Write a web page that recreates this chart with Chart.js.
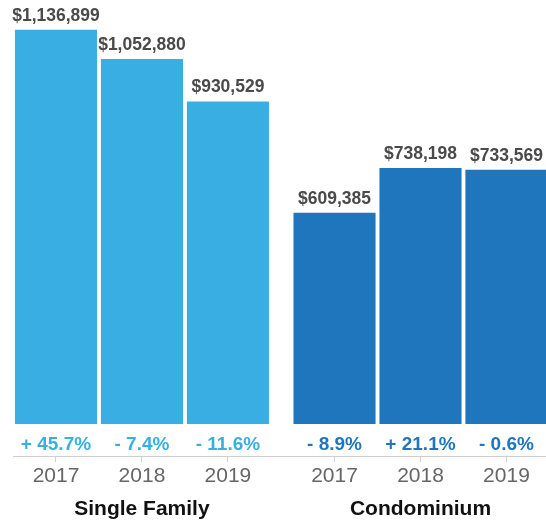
<!DOCTYPE html>
<html>
<head>
<meta charset="utf-8">
<script src="https://cdn.jsdelivr.net/npm/chart.js@4"></script>
<style>
  body { margin: 0; background: #fff; }
  #wrap { width: 546px; height: 522px; }
</style>
</head>
<body>
<div id="wrap"><canvas id="grafico"></canvas></div>
<script>
// Datos
const grupos = ["Single Family", "Condominium"];
const anios = ["2017", "2018", "2019"];
const singleFamily = [1136899, 1052880, 930529];
const condominium = [609385, 738198, 733569];
const cambioSingle = [45.7, -7.4, -11.6];
const cambioCondo = [-8.9, 21.1, -0.6];

const colores = ["#38AEE3", "#1F76BD"];
const separacion = 0.24; // hueco extra entre grupos

// posición en el eje x (linear) de cada barra
const posX = (g, i) => g * (anios.length + separacion) + i;
const centrosGrupo = grupos.map((_, g) => posX(g, (anios.length - 1) / 2));
const ticksAnios = [];
grupos.forEach((_, g) => anios.forEach((a, i) => ticksAnios.push({ value: posX(g, i), label: a })));

const valores = [singleFamily, condominium];
const cambios = [cambioSingle, cambioCondo];

const fmtDolar = v => "$" + v.toLocaleString("en-US");
const fmtCambio = v => (v >= 0 ? "+ " : "- ") + Math.abs(v).toFixed(1) + "%";

const etiquetas = {
  id: "etiquetas",
  afterDatasetsDraw(chart) {
    const { ctx, chartArea } = chart;
    ctx.save();
    ctx.textAlign = "center";
    ctx.textBaseline = "alphabetic";
    chart.data.datasets.forEach((ds, d) => {
      chart.getDatasetMeta(d).data.forEach((bar, i) => {
        ctx.font = "bold 17.5px 'Liberation Sans', Arial, sans-serif";
        ctx.fillStyle = "#4a4a4a";
        ctx.fillText(fmtDolar(valores[d][i]), bar.x, bar.y - 9);
        ctx.font = "bold 19px 'Liberation Sans', Arial, sans-serif";
        ctx.fillStyle = colores[d];
        ctx.fillText(fmtCambio(cambios[d][i]), bar.x, chartArea.bottom - 6);
      });
    });
    ctx.restore();
  }
};

const ctx = document.getElementById("grafico").getContext("2d");
new Chart(ctx, {
  type: "bar",
  data: {
    datasets: grupos.map((nombre, g) => ({
      label: nombre,
      data: valores[g].map((v, i) => ({ x: posX(g, i), y: v })),
      backgroundColor: colores[g],
      grouped: false,
      categoryPercentage: 1,
      barPercentage: 0.955
    }))
  },
  options: {
    responsive: true,
    maintainAspectRatio: false,
    animation: false,
    devicePixelRatio: 1,
    layout: { padding: { left: 13, right: 0, top: 0, bottom: 0 } },
    plugins: { legend: { display: false }, tooltip: { enabled: false } },
    scales: {
      x: {
        type: "linear",
        min: -0.5,
        max: posX(1, 2) + 0.46,
        offset: false,
        weight: 0,
        afterBuildTicks: s => { s.ticks = ticksAnios.map(t => ({ value: t.value })); },
        afterFit: s => { s.height = 36; },
        ticks: {
          autoSkip: false,
          maxRotation: 0,
          padding: 2,
          color: "#666",
          font: { family: "'Liberation Sans', Arial, sans-serif", size: 21 },
          callback: (v, i) => ticksAnios[i].label
        },
        grid: { offset: false, drawOnChartArea: false, drawTicks: true, tickLength: 6, color: "#cfcfcf" },
        border: { display: true, color: "#cfcfcf" }
      },
      x2: {
        type: "linear",
        position: "bottom",
        min: -0.5,
        max: posX(1, 2) + 0.46,
        offset: false,
        weight: 1,
        afterBuildTicks: s => { s.ticks = centrosGrupo.map(v => ({ value: v })); },
        afterFit: s => { s.height = 30; },
        ticks: {
          autoSkip: false,
          maxRotation: 0,
          padding: 5,
          color: "#111",
          font: { family: "'Liberation Sans', Arial, sans-serif", size: 21, weight: "bold" },
          callback: (v, i) => grupos[i]
        },
        grid: { display: false, drawTicks: false },
        border: { display: false }
      },
      y: {
        display: false,
        min: -92000,
        max: 1223000
      }
    }
  },
  plugins: [etiquetas]
});
</script>
</body>
</html>
